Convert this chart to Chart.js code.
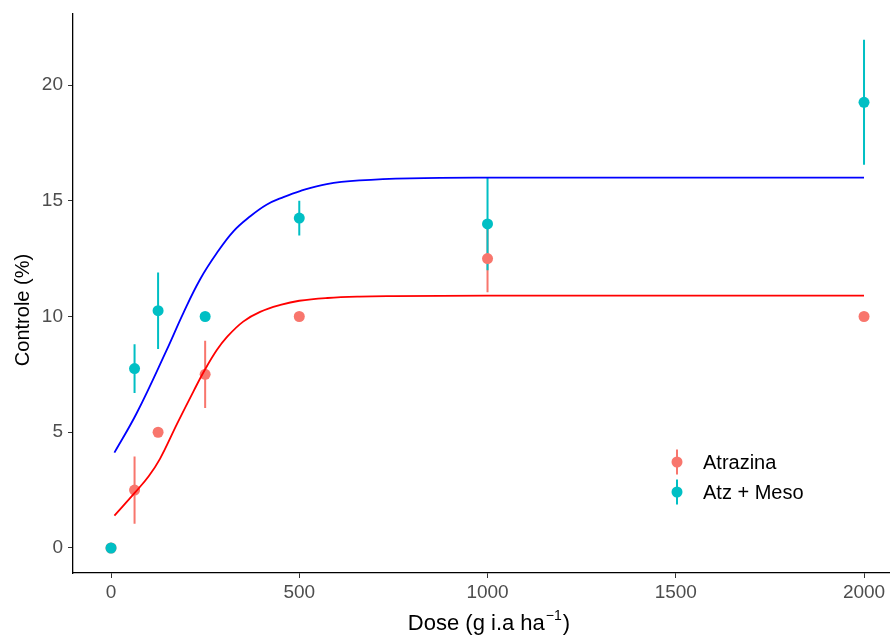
<!DOCTYPE html>
<html>
<head>
<meta charset="utf-8">
<script src="https://cdn.jsdelivr.net/npm/chart.js@4.4.1/dist/chart.umd.min.js"></script>
<style>
  html, body { margin: 0; padding: 0; background: #fff; }
  #wrap { width: 890px; height: 636px; position: relative; }
  canvas { display: block; }
</style>
</head>
<body>
<div id="wrap"><canvas id="graficoControle" width="890" height="636"></canvas></div>
<script>
// Doses (g i.a/ha)
const doses = [0, 62.5, 125, 250, 500, 1000, 2000];

// Atrazina - media e erro
const atrazinaMedia = [0, 2.5, 5, 7.5, 10, 12.5, 10];
const atrazinaErro = [0, 1.45, 0, 1.45, 0, 1.45, 0];

// Atz + Meso - media e erro
const atzMesoMedia = [0, 7.75, 10.25, 10, 14.25, 14, 19.25];
const atzMesoErro = [0, 1.05, 1.65, 0, 0.75, 2, 2.7];

// Curvas ajustadas
const curvaDoseAtrazina = [9, 64, 100, 130, 175, 220, 250, 281, 307, 351, 396, 450, 500, 575, 660, 750, 1000, 1500, 2000];
const curvaAtrazina = [1.4, 2.4, 3.1, 3.85, 5.35, 6.8, 7.72, 8.55, 9.1, 9.78, 10.2, 10.5, 10.68, 10.8, 10.86, 10.88, 10.9, 10.9, 10.9];
const curvaDoseAtzMeso = [9, 68, 148, 192, 236, 281, 325, 369, 413, 458, 502, 573, 661, 794, 1000, 1500, 2000];
const curvaAtzMeso = [4.12, 5.82, 8.56, 10.15, 11.59, 12.74, 13.68, 14.32, 14.83, 15.16, 15.42, 15.72, 15.88, 15.97, 16.0, 16.0, 16.0];

// Ticks dos eixos
const ticksX = [0, 500, 1000, 1500, 2000];
const ticksY = [0, 5, 10, 15, 20];

const nomesSeries = ["Atrazina", "Atz + Meso"];
const coresPontos = ["#F8766D", "#00BFC4"];
const coresCurvas = ["#FF0000", "#0000FF"];

const fonte = "'Liberation Sans', Arial, sans-serif";

function pontos(xs, ys) {
  return xs.map(function (x, i) {
    return { x: x, y: ys[i] };
  });
}

// barras de erro: segmento vertical + null para quebrar a linha
function barrasErro(media, erro) {
  var res = [];
  doses.forEach(function (d, i) {
    if (erro[i] > 0) {
      res.push({ x: d, y: media[i] - erro[i] });
      res.push({ x: d, y: media[i] + erro[i] });
      res.push({ x: d, y: null });
    }
  });
  return res;
}

// legenda e titulos dos eixos
const extras = {
  id: "extras",
  afterDraw: function (chart) {
    const ctx = chart.ctx;
    ctx.save();

    // legenda
    var yLeg = [462, 492];
    nomesSeries.forEach(function (nome, i) {
      ctx.strokeStyle = coresPontos[i];
      ctx.lineWidth = 2;
      ctx.beginPath();
      ctx.moveTo(677, yLeg[i] - 12.5);
      ctx.lineTo(677, yLeg[i] + 12.5);
      ctx.stroke();
      ctx.fillStyle = coresPontos[i];
      ctx.beginPath();
      ctx.arc(677, yLeg[i], 5.5, 0, Math.PI * 2);
      ctx.fill();
      ctx.fillStyle = "#000";
      ctx.font = "20px " + fonte;
      ctx.textAlign = "left";
      ctx.textBaseline = "middle";
      ctx.fillText(nome, 703, yLeg[i] + 1);
    });

    // titulo eixo x com sobrescrito
    ctx.fillStyle = "#000";
    ctx.textBaseline = "alphabetic";
    ctx.textAlign = "left";
    const t1 = "Dose (g i.a ha";
    const t2 = "\u22121";
    const t3 = ")";
    ctx.font = "22px " + fonte;
    const w1 = ctx.measureText(t1).width;
    const w3 = ctx.measureText(t3).width;
    ctx.font = "14px " + fonte;
    const w2 = ctx.measureText(t2).width;
    var x0 = 488 - (w1 + w2 + w3) / 2;
    ctx.font = "22px " + fonte;
    ctx.fillText(t1, x0, 630);
    ctx.font = "14px " + fonte;
    ctx.fillText(t2, x0 + w1 + 1, 620);
    ctx.font = "22px " + fonte;
    ctx.fillText(t3, x0 + w1 + w2 + 2, 630);

    // titulo eixo y
    ctx.translate(29, 310);
    ctx.rotate(-Math.PI / 2);
    ctx.textAlign = "center";
    ctx.font = "20px " + fonte;
    ctx.fillText("Controle (%)", 0, 0);
    ctx.restore();
  }
};

const ctxControle = document.getElementById("graficoControle").getContext("2d");

const graficoControle = new Chart(ctxControle, {
  type: "scatter",
  data: {
    datasets: [
      {
        type: "line",
        label: "curva Atrazina",
        data: pontos(curvaDoseAtrazina, curvaAtrazina),
        borderColor: coresCurvas[0],
        borderWidth: 1.8,
        pointRadius: 0,
        tension: 0.4,
        fill: false,
        order: 0
      },
      {
        type: "line",
        label: "curva Atz + Meso",
        data: pontos(curvaDoseAtzMeso, curvaAtzMeso),
        borderColor: coresCurvas[1],
        borderWidth: 1.8,
        pointRadius: 0,
        tension: 0.4,
        fill: false,
        order: 0
      },
      {
        label: "Atz + Meso",
        data: pontos(doses, atzMesoMedia),
        backgroundColor: coresPontos[1],
        borderWidth: 0,
        pointRadius: 5.5,
        order: 1
      },
      {
        label: "Atrazina",
        data: pontos(doses, atrazinaMedia),
        backgroundColor: coresPontos[0],
        borderWidth: 0,
        pointRadius: 5.5,
        order: 2
      },
      {
        type: "line",
        label: "erro Atz + Meso",
        data: barrasErro(atzMesoMedia, atzMesoErro),
        borderColor: coresPontos[1],
        borderWidth: 2,
        pointRadius: 0,
        spanGaps: false,
        order: 3
      },
      {
        type: "line",
        label: "erro Atrazina",
        data: barrasErro(atrazinaMedia, atrazinaErro),
        borderColor: coresPontos[0],
        borderWidth: 2,
        pointRadius: 0,
        spanGaps: false,
        order: 4
      }
    ]
  },
  options: {
    responsive: false,
    maintainAspectRatio: false,
    animation: false,
    devicePixelRatio: 1,
    layout: { autoPadding: false, padding: { top: 14, right: 0, bottom: 0, left: 0 } },
    plugins: {
      legend: { display: false },
      tooltip: { enabled: false }
    },
    scales: {
      x: {
        type: "linear",
        min: -101,
        max: 2069,
        afterBuildTicks: function (scale) {
          scale.ticks = ticksX.map(function (v) { return { value: v }; });
        },
        afterFit: function (scale) {
          scale.height = 63;
          scale.paddingLeft = 0;
          scale.paddingRight = 0;
        },
        grid: { drawOnChartArea: false, drawTicks: true, tickLength: 5, color: "#333", lineWidth: 1 },
        border: { display: true, color: "#000", width: 1.3 },
        ticks: {
          color: "#4D4D4D",
          padding: 3,
          maxRotation: 0,
          autoSkip: false,
          font: { family: fonte, size: 19 },
          callback: function (v) { return String(v); }
        }
      },
      y: {
        type: "linear",
        min: -1.08,
        max: 23.067,
        afterBuildTicks: function (scale) {
          scale.ticks = ticksY.map(function (v) { return { value: v }; });
        },
        afterFit: function (scale) {
          scale.width = 73;
          scale.paddingTop = 0;
          scale.paddingBottom = 0;
        },
        grid: { drawOnChartArea: false, drawTicks: true, tickLength: 5, color: "#333", lineWidth: 1 },
        border: { display: true, color: "#000", width: 1.3 },
        ticks: {
          color: "#4D4D4D",
          padding: 5,
          autoSkip: false,
          font: { family: fonte, size: 19 },
          callback: function (v) { return String(v); }
        }
      }
    }
  },
  plugins: [extras]
});
</script>
</body>
</html>
